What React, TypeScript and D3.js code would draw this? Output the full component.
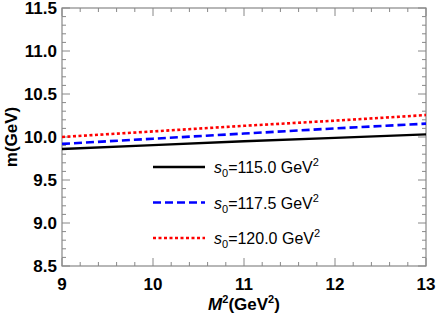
import React from "react";
import * as d3 from "d3";

const xValues = [9, 10, 11, 12, 13];
const seriesA = [9.86, 9.905, 9.95, 9.99, 10.03];
const seriesB = [9.92, 9.98, 10.04, 10.1, 10.155];
const seriesC = [10.0, 10.065, 10.13, 10.19, 10.255];
const xTicks = [9, 10, 11, 12, 13];
const yTicks = [8.5, 9.0, 9.5, 10.0, 10.5, 11.0, 11.5];
const legendLabels = ["115.0", "117.5", "120.0"];

const series = [
  { values: seriesA, color: "#000", dash: "none", width: 2.4 },
  { values: seriesB, color: "#0000ff", dash: "8,4", width: 2.6 },
  { values: seriesC, color: "#ff0000", dash: "3,2.5", width: 2.6 },
];

const W = 436;
const H = 327;
const margin = { top: 8, right: 10, bottom: 61, left: 62 };

const App = () => {
  const x = d3.scaleLinear().domain([9, 13]).range([margin.left, W - margin.right]);
  const y = d3.scaleLinear().domain([8.5, 11.5]).range([H - margin.bottom, margin.top]);

  const line = d3
    .line<number>()
    .x((d, i) => x(xValues[i]))
    .y((d) => y(d));

  const xMinor = d3.range(9, 13.0001, 0.2);
  const yMinor = d3.range(8.5, 11.5001, 0.1);
  const axisColor = "#888";
  const font = "'Liberation Sans', Arial, sans-serif";

  return (
    <svg width={W} height={H} style={{ position: "absolute", left: 0, top: 0 }}>
      <rect x={0} y={0} width={W} height={H} fill="#fff" />
      {/* ticks */}
      {xMinor.map((v, i) => {
        const major = Math.abs(v - Math.round(v)) < 1e-6;
        const len = major ? 8 : 4;
        return (
          <g key={"xt" + i} stroke={axisColor} strokeWidth={1}>
            <line x1={x(v)} x2={x(v)} y1={y(8.5)} y2={y(8.5) - len} />
            <line x1={x(v)} x2={x(v)} y1={y(11.5)} y2={y(11.5) + len} />
          </g>
        );
      })}
      {yMinor.map((v, i) => {
        const major = Math.abs(v * 2 - Math.round(v * 2)) < 1e-6;
        const len = major ? 8 : 4;
        return (
          <g key={"yt" + i} stroke={axisColor} strokeWidth={1}>
            <line x1={x(9)} x2={x(9) + len} y1={y(v)} y2={y(v)} />
            <line x1={x(13)} x2={x(13) - len} y1={y(v)} y2={y(v)} />
          </g>
        );
      })}
      <rect
        x={x(9)}
        y={y(11.5)}
        width={x(13) - x(9)}
        height={y(8.5) - y(11.5)}
        fill="none"
        stroke={axisColor}
        strokeWidth={1.2}
      />
      {/* lines */}
      {series.map((s, i) => (
        <path
          key={"s" + i}
          d={line(s.values) || ""}
          fill="none"
          stroke={s.color}
          strokeWidth={s.width}
          strokeDasharray={s.dash}
        />
      ))}
      {/* tick labels */}
      {xTicks.map((v) => (
        <text
          key={"xl" + v}
          x={x(v)}
          y={y(8.5) + 24}
          textAnchor="middle"
          fontFamily={font}
          fontWeight="bold"
          fontSize={17}
        >
          {v}
        </text>
      ))}
      {yTicks.map((v) => (
        <text
          key={"yl" + v}
          x={x(9) - 5}
          y={y(v) + 6}
          textAnchor="end"
          fontFamily={font}
          fontWeight="bold"
          fontSize={17}
        >
          {v.toFixed(1)}
        </text>
      ))}
      {/* axis labels */}
      <text
        transform={`translate(17,${y(10)}) rotate(-90)`}
        textAnchor="middle"
        fontFamily={font}
        fontWeight="bold"
        fontSize={17}
      >
        m(GeV)
      </text>
      <text
        x={(x(9) + x(13)) / 2}
        y={H - 17}
        textAnchor="middle"
        fontFamily={font}
        fontWeight="bold"
        fontSize={17}
      >
        <tspan fontStyle="italic">M</tspan>
        <tspan fontSize={11} dy={-7}>2</tspan>
        <tspan dy={7}>(GeV</tspan>
        <tspan fontSize={11} dy={-7}>2</tspan>
        <tspan dy={7}>)</tspan>
      </text>
      {/* legend */}
      {series.map((s, i) => {
        const ly = 167 + i * 35.5;
        return (
          <g key={"lg" + i}>
            <line
              x1={153}
              x2={205}
              y1={ly}
              y2={ly}
              stroke={s.color}
              strokeWidth={s.width}
              strokeDasharray={s.dash}
            />
            <text x={214} y={ly + 6} fontFamily={font} fontSize={16}>
              <tspan fontStyle="italic">s</tspan>
              <tspan fontSize={11} dy={4}>0</tspan>
              <tspan dy={-4}>{"=" + legendLabels[i] + " GeV"}</tspan>
              <tspan fontSize={11} dy={-7}>2</tspan>
            </text>
          </g>
        );
      })}
    </svg>
  );
};

export default App;
